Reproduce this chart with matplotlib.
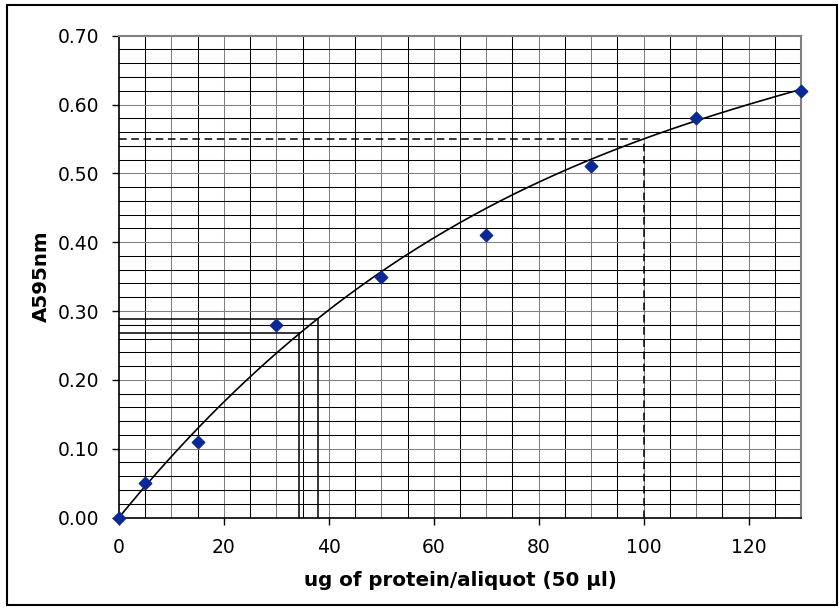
import numpy as np
import matplotlib
matplotlib.use("Agg")
import matplotlib.pyplot as plt
from matplotlib.patches import Rectangle

# data
protein = [0, 5, 15, 30, 50, 70, 90, 110, 130]
a595 = [0.00, 0.05, 0.11, 0.28, 0.35, 0.41, 0.51, 0.58, 0.62]

# trendline as drawn in the reference: y = a*x + b*x^2 + c*x^3
trend_coef = [0.009349, -4.977e-5, 1.128e-7]

# read-off guide lines (x, y)
dashed_x, dashed_y = 100, 0.55
solid_x = [34.3, 37.9]
solid_y = [0.268, 0.289]

plt.rcParams["font.family"] = ["DejaVu Sans"]

fig = plt.figure(figsize=(8.39, 6.10), dpi=100)
ax = fig.add_axes([0.1418, 0.1516, 0.8129, 0.7899])

# grid: every 5 on x, every 0.02 on y
for gx in np.arange(5, 130, 5):
    ax.axvline(gx, color="#808080" if gx % 10 == 0 else "black", lw=0.75, zorder=0)
for gy in np.arange(0.02, 0.70, 0.02):
    k = int(round(gy / 0.02))
    ax.axhline(gy, color="#808080" if k % 5 == 0 else "black", lw=0.75, zorder=0)

xs = np.linspace(0, 130, 300)
ys = trend_coef[0] * xs + trend_coef[1] * xs**2 + trend_coef[2] * xs**3
ax.plot(xs, ys, color="black", lw=1.2, zorder=3)

# guide lines
ax.plot([0, dashed_x], [dashed_y, dashed_y], color="black", lw=1.1, ls=(0, (5, 3)), zorder=2)
ax.plot([dashed_x, dashed_x], [0, dashed_y], color="black", lw=1.1, ls=(0, (5, 3)), zorder=2)
for sx, sy in zip(solid_x, solid_y):
    ax.plot([0, sx], [sy, sy], color="black", lw=1.1, zorder=2)
    ax.plot([sx, sx], [0, sy], color="black", lw=1.1, zorder=2)

ax.scatter(protein, a595, marker="D", s=40, color="#0a2896", zorder=5, clip_on=False)

ax.set_xlim(0, 130)
ax.set_ylim(0, 0.70)
ax.set_xticks([0, 20, 40, 60, 80, 100, 120])
ax.set_yticks(np.arange(0, 0.71, 0.1))
ax.set_yticklabels(["%.2f" % v for v in np.arange(0, 0.71, 0.1)])
ax.tick_params(axis="both", direction="out", length=5, width=1, labelsize=13.5)
ax.tick_params(axis="y", pad=9)
ax.tick_params(axis="x", pad=10)

for side in ["top", "right"]:
    ax.spines[side].set_color("#808080")
    ax.spines[side].set_linewidth(1.5)
for side in ["left", "bottom"]:
    ax.spines[side].set_color("black")
    ax.spines[side].set_linewidth(1.2)

ax.set_xlabel("ug of protein/aliquot (50 µl)", fontsize=14.3, fontweight="bold", labelpad=10)
ax.set_ylabel("A595nm", fontsize=14.3, fontweight="bold", labelpad=5)

# outer chart border
fig.patches.append(Rectangle((7 / 839, 1 - 605 / 610), 830 / 839, 600 / 610,
                             transform=fig.transFigure, fill=False,
                             edgecolor="black", lw=1.5))

fig.savefig("out.png", dpi=100)
